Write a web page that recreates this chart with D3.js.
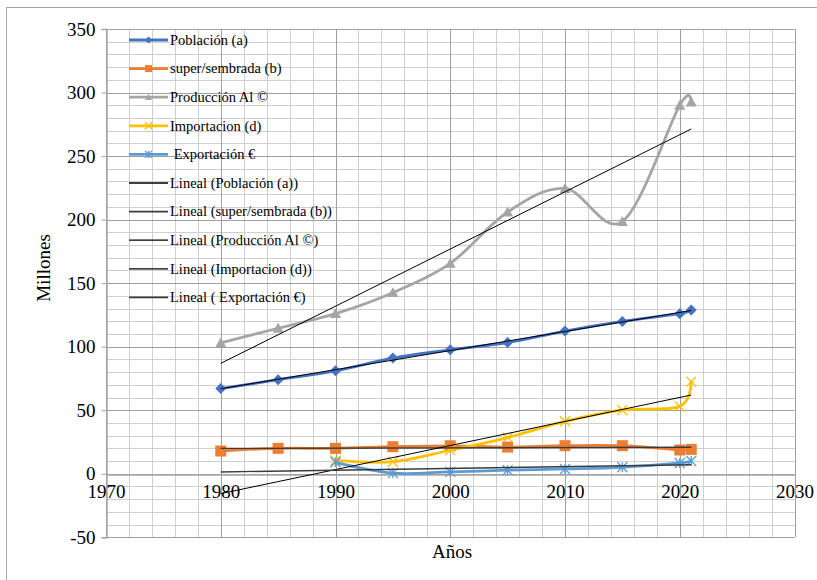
<!DOCTYPE html>
<html>
<head>
<meta charset="utf-8">
<script src="https://cdn.jsdelivr.net/npm/d3@7"></script>
<style>
  html, body { margin: 0; padding: 0; background: #fff; }
  svg { display: block; }
  text { font-family: "Liberation Serif", "Times New Roman", serif; fill: #000; }
</style>
</head>
<body>
<svg id="chart" width="817" height="580"></svg>
<script>
// Years on the horizontal axis
const years = [1980, 1985, 1990, 1995, 2000, 2005, 2010, 2015, 2020, 2021];

// Series values in millions (null = no value for that year)
const poblacion     = [67, 74, 81, 91, 97.5, 103.3, 112.3, 119.9, 126, 128.9];
const superSembrada = [17.9, 20, 20, 21.3, 22, 21, 22.1, 22.1, 18.7, 19.2];
const produccion    = [103, 114.5, 126, 142.5, 165.5, 206, 224.5, 198.5, 290, 292.5];
const importacion   = [null, null, 10.5, 9.5, 18.5, 28.5, 41.3, 50, 53, 72.5];
const exportacion   = [null, null, 9, 0.5, 1.5, 2.8, 3.8, 5.1, 8.5, 10];

// Series names as shown in the legend
const seriesNames = ["Población (a)", "super/sembrada (b)", "Producción Al ©", "Importacion (d)", " Exportación €"];
const trendNames = ["Lineal (Población (a))", "Lineal (super/sembrada (b))", "Lineal (Producción Al ©)", "Lineal (Importacion (d))", "Lineal ( Exportación €)"];

// Axis ticks
const xTicks = [1970, 1980, 1990, 2000, 2010, 2020, 2030];
const yTicks = [-50, 0, 50, 100, 150, 200, 250, 300, 350];

const colors = ["#4472C4", "#ED7D31", "#A5A5A5", "#FFC000", "#5B9BD5"];
const markers = ["diamond", "square", "triangle", "x", "star"];
const trendStyle = [
  { color: "#000", width: 1 },
  { color: "#3a3a3a", width: 1.4 },
  { color: "#000", width: 1 },
  { color: "#000", width: 1 },
  { color: "#3a3a3a", width: 1.4 }
];
const allValues = [poblacion, superSembrada, produccion, importacion, exportacion];

const svg = d3.select("#chart");

// Outer chart frame
svg.append("rect")
  .attr("x", 6.5).attr("y", 7.5).attr("width", 830).attr("height", 600)
  .attr("fill", "none").attr("stroke", "#a6a6a6").attr("stroke-width", 1);

const x = d3.scaleLinear().domain([1970, 2030]).range([106, 794.5]);
const y = d3.scaleLinear().domain([-50, 350]).range([537.3, 29]);

// Grid: minor every 2 years / 10 units, major every 10 years / 50 units
const grid = svg.append("g");
d3.range(1970, 2031, 2).filter(v => v % 10 !== 0).forEach(v => {
  grid.append("line").attr("x1", Math.round(x(v)) + 0.5).attr("x2", Math.round(x(v)) + 0.5)
    .attr("y1", y(350)).attr("y2", y(-50)).attr("stroke", "#cfcfcf");
});
d3.range(-50, 351, 10).filter(v => v % 50 !== 0).forEach(v => {
  grid.append("line").attr("y1", Math.round(y(v)) + 0.5).attr("y2", Math.round(y(v)) + 0.5)
    .attr("x1", x(1970)).attr("x2", x(2030)).attr("stroke", "#cfcfcf");
});
xTicks.forEach(v => {
  grid.append("line").attr("x1", Math.round(x(v)) + 0.5).attr("x2", Math.round(x(v)) + 0.5)
    .attr("y1", y(350)).attr("y2", y(-50)).attr("stroke", "#a0a0a0");
});
yTicks.forEach(v => {
  grid.append("line").attr("y1", Math.round(y(v)) + 0.5).attr("y2", Math.round(y(v)) + 0.5)
    .attr("x1", x(1970)).attr("x2", x(2030)).attr("stroke", "#a0a0a0");
});

// Y axis with outside ticks (plain hyphen for negatives)
const yAxis = d3.axisLeft(y).tickValues(yTicks).tickSize(5).tickPadding(6).tickFormat(d => String(d));
const yg = svg.append("g").attr("transform", `translate(${Math.round(x(1970)) + 0.5},0)`).call(yAxis);
yg.select(".domain").attr("stroke", "#a6a6a6").attr("stroke-width", 1.5);
yg.selectAll(".tick line").attr("stroke", "#a6a6a6");
yg.selectAll("text").style("font-family", "Liberation Serif").style("font-size", "19px").attr("fill", "#000");

// X axis drawn along the zero line
const xAxis = d3.axisBottom(x).tickValues(xTicks).tickSize(0).tickPadding(10).tickFormat(d => String(d));
const xg = svg.append("g").attr("transform", `translate(0,${Math.round(y(0)) + 0.5})`).call(xAxis);
xg.select(".domain").attr("stroke", "#a6a6a6").attr("stroke-width", 1.5);
xg.selectAll("text").style("font-family", "Liberation Serif").style("font-size", "19px").attr("fill", "#000");

// Axis titles
svg.append("text").attr("transform", "translate(50,268) rotate(-90)")
  .attr("text-anchor", "middle").style("font-size", "19px").text("Millones");
svg.append("text").attr("x", 452).attr("y", 558)
  .attr("text-anchor", "middle").style("font-size", "19px").text("Años");

// Marker drawing
function drawMarker(g, type, cx, cy, color, s) {
  const h = s / 2;
  if (type === "diamond") {
    g.append("path").attr("d", `M${cx},${cy - h}L${cx + h},${cy}L${cx},${cy + h}L${cx - h},${cy}Z`).attr("fill", color);
  } else if (type === "square") {
    g.append("rect").attr("x", cx - h).attr("y", cy - h).attr("width", s).attr("height", s).attr("fill", color);
  } else if (type === "triangle") {
    g.append("path").attr("d", `M${cx},${cy - h}L${cx + h},${cy + h * 0.8}L${cx - h},${cy + h * 0.8}Z`).attr("fill", color);
  } else if (type === "x") {
    g.append("path").attr("d", `M${cx - h},${cy - h}L${cx + h},${cy + h}M${cx + h},${cy - h}L${cx - h},${cy + h}`)
      .attr("stroke", color).attr("stroke-width", 1.3).attr("fill", "none");
  } else if (type === "star") {
    g.append("path").attr("d", `M${cx - h},${cy - h}L${cx + h},${cy + h}M${cx + h},${cy - h}L${cx - h},${cy + h}M${cx},${cy - h}L${cx},${cy + h}`)
      .attr("stroke", color).attr("stroke-width", 1.3).attr("fill", "none");
  }
}
const markerSize = [11, 11, 11, 10, 10];

// Smoothed series lines with markers
const line = d3.line().x(d => x(d.year)).y(d => y(d.value)).curve(d3.curveCatmullRom.alpha(0));
const seriesG = svg.append("g");
allValues.forEach((vals, i) => {
  const pts = years.map((yr, k) => ({ year: yr, value: vals[k] })).filter(d => d.value !== null);
  seriesG.append("path").datum(pts).attr("d", line)
    .attr("fill", "none").attr("stroke", colors[i]).attr("stroke-width", 2.8).attr("stroke-linecap", "round");
  const mg = seriesG.append("g");
  pts.forEach(p => drawMarker(mg, markers[i], x(p.year), y(p.value), colors[i], markerSize[i]));
});

// Linear trend lines (least squares), spanning the year range of the table
const trendG = svg.append("g");
allValues.forEach((vals, i) => {
  const pts = years.map((yr, k) => ({ year: yr, value: vals[k] })).filter(d => d.value !== null);
  const mx = d3.mean(pts, d => d.year), my = d3.mean(pts, d => d.value);
  const sxy = d3.sum(pts, d => (d.year - mx) * (d.value - my));
  const sxx = d3.sum(pts, d => (d.year - mx) * (d.year - mx));
  const slope = sxy / sxx;
  const x0 = years[0], x1 = years[years.length - 1];
  trendG.append("line")
    .attr("x1", x(x0)).attr("y1", y(my + slope * (x0 - mx)))
    .attr("x2", x(x1)).attr("y2", y(my + slope * (x1 - mx)))
    .attr("stroke", trendStyle[i].color).attr("stroke-width", trendStyle[i].width);
});

// Legend
const legend = svg.append("g");
const legendY0 = 40, legendStep = 28.6;
seriesNames.forEach((name, i) => {
  const cy = legendY0 + i * legendStep;
  legend.append("line").attr("x1", 129).attr("x2", 168).attr("y1", cy).attr("y2", cy)
    .attr("stroke", colors[i]).attr("stroke-width", 2.8);
  drawMarker(legend, markers[i], 148.5, cy, colors[i], 7);
  legend.append("text").attr("x", 170).attr("y", cy).attr("dy", "0.33em")
    .style("font-size", "14.5px").attr("xml:space", "preserve").style("white-space", "pre").text(name);
});
trendNames.forEach((name, i) => {
  const cy = legendY0 + (i + 5) * legendStep;
  legend.append("line").attr("x1", 129).attr("x2", 168).attr("y1", cy).attr("y2", cy)
    .attr("stroke", trendStyle[i].color).attr("stroke-width", trendStyle[i].width + 0.3);
  legend.append("text").attr("x", 170).attr("y", cy).attr("dy", "0.33em")
    .style("font-size", "14.5px").text(name);
});
</script>
</body>
</html>
